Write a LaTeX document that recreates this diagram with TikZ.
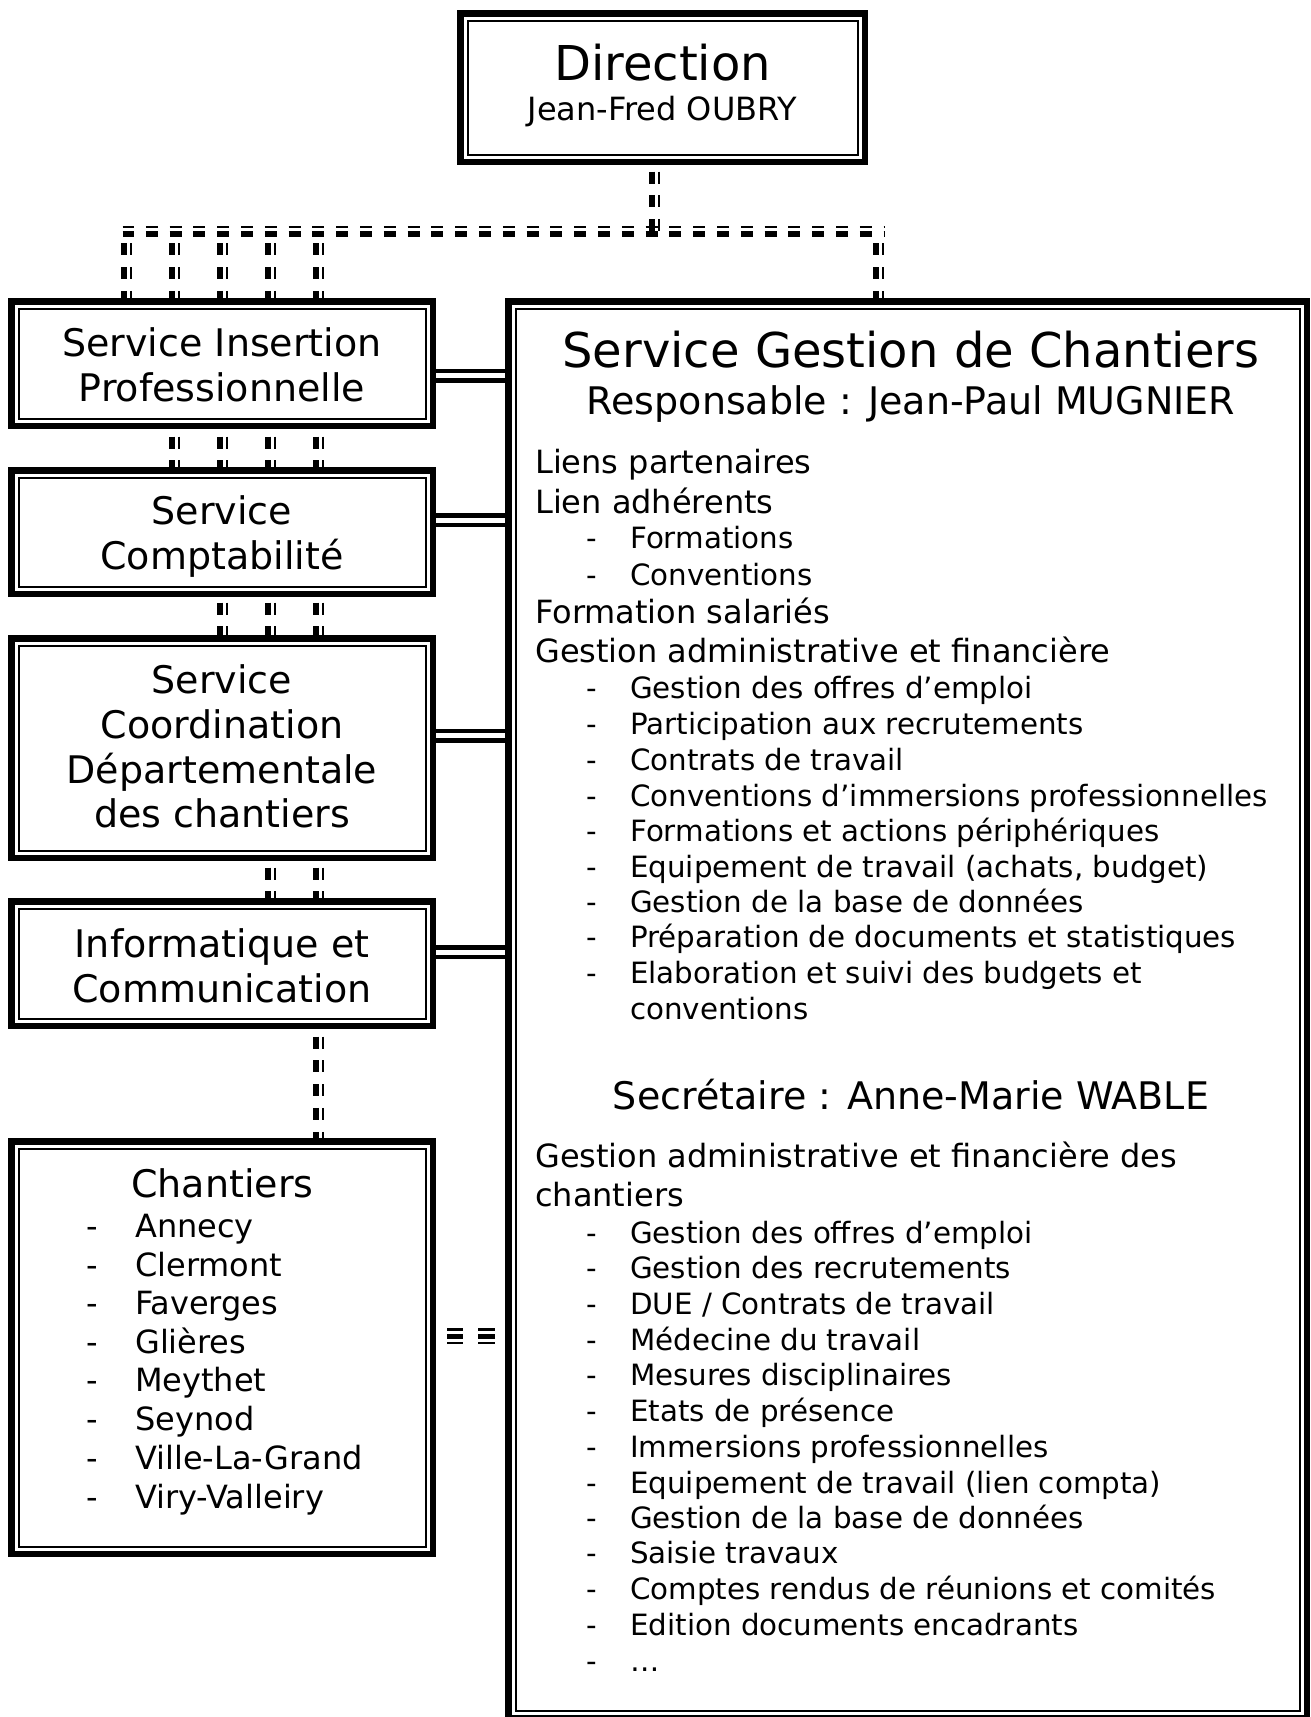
\documentclass[tikz,border=0pt]{standalone}
\usepackage{fontspec}
\setmainfont{DejaVu Sans}
\usetikzlibrary{calc}
\pgfdeclarelayer{bg}
\pgfsetlayers{bg,main}

\tikzset{
  orgbox/.style={draw, line width=6.5pt, inner sep=0pt, outer sep=0pt, rectangle},
  inframe/.style={draw, line width=2pt},
  ttl/.style={anchor=base, inner sep=0pt, font=\fontsize{48}{58}\selectfont},
  cxiv/.style={anchor=base, inner sep=0pt, font=\fontsize{38}{46}\selectfont},
  cxii/.style={anchor=base, inner sep=0pt, font=\fontsize{32}{40}\selectfont},
  lxii/.style={anchor=base west, inner sep=0pt, font=\fontsize{32}{40}\selectfont},
  lxi/.style={anchor=base west, inner sep=0pt, font=\fontsize{29.33}{36}\selectfont},
  thickdash/.style={line width=6pt, dash pattern=on 12pt off 11.8pt},
  thindash/.style={line width=2pt, dash pattern=on 12pt off 11.8pt},
  dbl/.style={draw, line width=4.5pt, double=white, double distance=5pt},
  tripdash/.style={dash pattern=on 0pt off 14.25pt on 16pt off 15pt on 17pt off 40pt},
}

\newcommand\orgframe[5]{%
  \pgfmathsetmacro\obw{#4-#2-6.5}\pgfmathsetmacro\obh{#5-#3-6.5}%
  \node[orgbox, minimum width=\obw pt, minimum height=\obh pt] (#1) at ({(#2+#4)/2},{(#3+#5)/2}) {};
  \draw[inframe] ([shift={(7.25,7.25)}]#1.north west) rectangle ([shift={(-7.25,-7.25)}]#1.south east);
}
\newcommand\vcon[3]{%
  \draw[thickdash, dash phase=#3] ($(#1)+(-2.5,0)$) -- ($(#2)+(-2.5,0)$);
  \draw[thindash, dash phase=#3] ($(#1)+(4.5,0)$) -- ($(#2)+(4.5,0)$);
}
\newcommand\hcon[3]{%
  \draw[thickdash, dash phase=#3] ($(#1)+(0,2.5)$) -- ($(#2)+(0,2.5)$);
  \draw[thindash, dash phase=#3] ($(#1)+(0,-4.5)$) -- ($(#2)+(0,-4.5)$);
}
\newcommand\gsub[3]{%
  \node[lxi] (#1d) at (586,#2) {-};
  \node[lxi] (#1) at (630,#2) {#3};
}
\newcommand\csub[3]{%
  \node[lxii] (#1d) at (86.5,#2) {-};
  \node[lxii] (#1) at (135,#2) {#3};
}

\begin{document}
\begin{tikzpicture}[x=1pt,y=-1pt]
\useasboundingbox (0,0) rectangle (1311,1717);
\begin{pgfonlayer}{bg}
  \fill[white] (0,0) rectangle (1311,1717);
\end{pgfonlayer}

% ---------- boxes ----------
\orgframe{dir}{457}{10}{868}{165}
\orgframe{ins}{8}{298}{436}{429}
\orgframe{compta}{8}{467}{436}{597}
\orgframe{coord}{8}{635}{436}{861}
\orgframe{info}{8}{898}{436}{1029}
\orgframe{chant}{8}{1138}{436}{1557}
\orgframe{gest}{505}{298}{1310}{1721}

% ---------- texts of left boxes ----------
\node[ttl]  (dirT) at (662.5,80) {Direction};
\node[cxii] (dirN) at (662.5,120) {Jean-Fred OUBRY};

\node[cxiv] (ins1) at (222,356) {Service Insertion};
\node[cxiv] (ins2) at (222,401) {Professionnelle};

\node[cxiv] (cpt1) at (222,524) {Service};
\node[cxiv] (cpt2) at (222,569) {Comptabilité};

\node[cxiv] (crd1) at (222,693) {Service};
\node[cxiv] (crd2) at (222,738) {Coordination};
\node[cxiv] (crd3) at (222,783) {Départementale};
\node[cxiv] (crd4) at (222,827) {des chantiers};

\node[cxiv] (inf1) at (222,957) {Informatique et};
\node[cxiv] (inf2) at (222,1002) {Communication};

\node[cxiv] (chT) at (222.5,1197) {Chantiers};
\csub{ch1}{1237}{Annecy}
\csub{ch2}{1276}{Clermont}
\csub{ch3}{1314}{Faverges}
\csub{ch4}{1353}{Glières}
\csub{ch5}{1391}{Meythet}
\csub{ch6}{1430}{Seynod}
\csub{ch7}{1469}{Ville-La-Grand}
\csub{ch8}{1508}{Viry-Valleiry}

% ---------- Service Gestion de Chantiers ----------
\node[ttl]  (gT) at (911,367) {Service Gestion de Chantiers};
\node[cxiv] (gR) at (911,414) {Responsable : Jean-Paul MUGNIER};
\node[lxii] (g1) at (535,473) {Liens partenaires};
\node[lxii] (g2) at (535,513) {Lien adhérents};
\gsub{g3}{548}{Formations}
\gsub{g4}{585}{Conventions}
\node[lxii] (g5) at (535,623) {Formation salariés};
\node[lxii] (g6) at (535,662) {Gestion administrative et financière};
\gsub{g7}{698}{Gestion des offres d’emploi}
\gsub{g8}{734}{Participation aux recrutements}
\gsub{g9}{770}{Contrats de travail}
\gsub{g10}{806}{Conventions d’immersions professionnelles}
\gsub{g11}{841}{Formations et actions périphériques}
\gsub{g12}{877}{Equipement de travail (achats, budget)}
\gsub{g13}{912}{Gestion de la base de données}
\gsub{g14}{947}{Préparation de documents et statistiques}
\gsub{g15}{983}{Elaboration et suivi des budgets et}
\node[lxi] (g16) at (630,1019) {conventions};

\node[cxiv] (gS) at (911,1109) {Secrétaire : Anne-Marie WABLE};
\node[lxii] (h1) at (535,1167) {Gestion administrative et financière des};
\node[lxii] (h2) at (535,1206) {chantiers};
\gsub{h3}{1243}{Gestion des offres d’emploi}
\gsub{h4}{1278}{Gestion des recrutements}
\gsub{h5}{1314}{DUE / Contrats de travail}
\gsub{h6}{1350}{Médecine du travail}
\gsub{h7}{1385}{Mesures disciplinaires}
\gsub{h8}{1421}{Etats de présence}
\gsub{h9}{1457}{Immersions professionnelles}
\gsub{h10}{1493}{Equipement de travail (lien compta)}
\gsub{h11}{1528}{Gestion de la base de données}
\gsub{h12}{1563}{Saisie travaux}
\gsub{h13}{1599}{Comptes rendus de réunions et comités}
\gsub{h14}{1635}{Edition documents encadrants}
\gsub{h15}{1671}{…}

% ---------- connectors ----------
\coordinate (busL) at (122.5,231.5);
\coordinate (busR) at (884,231.5);
\coordinate (kd) at (654,231.5);
\coordinate (k0) at (126,231.5);
\coordinate (k1) at (174,231.5);
\coordinate (k2) at (222,231.5);
\coordinate (k3) at (270,231.5);
\coordinate (k4) at (318,231.5);
\coordinate (kr) at (878.5,231.5);
\coordinate (yIns) at (0,375.5);
\coordinate (yCpt) at (0,520);
\coordinate (yCrd) at (0,735.5);
\coordinate (yInf) at (0,952);
\coordinate (yCh) at (0,1336.5);

\begin{pgfonlayer}{bg}
  \vcon{kd |- dir.south}{kd}{14pt}
  \hcon{busL}{busR}{0.5pt}
  \vcon{k0}{k0 |- ins.north}{12pt}
  \vcon{k1}{k1 |- ins.north}{12pt}
  \vcon{k2}{k2 |- ins.north}{12pt}
  \vcon{k3}{k3 |- ins.north}{12pt}
  \vcon{k4}{k4 |- ins.north}{12pt}
  \vcon{kr}{kr |- gest.north}{12pt}
  \vcon{k1 |- ins.south}{k1 |- compta.north}{13pt}
  \vcon{k2 |- ins.south}{k2 |- compta.north}{13pt}
  \vcon{k3 |- ins.south}{k3 |- compta.north}{13pt}
  \vcon{k4 |- ins.south}{k4 |- compta.north}{13pt}
  \vcon{k2 |- compta.south}{k2 |- coord.north}{15pt}
  \vcon{k3 |- compta.south}{k3 |- coord.north}{15pt}
  \vcon{k4 |- compta.south}{k4 |- coord.north}{15pt}
  \vcon{k3 |- coord.south}{k3 |- info.north}{14pt}
  \vcon{k4 |- coord.south}{k4 |- info.north}{14pt}
  \vcon{k4 |- info.south}{k4 |- chant.north}{13pt}

  \draw[dbl] (ins.east |- yIns) -- (gest.west |- yIns);
  \draw[dbl] (compta.east |- yCpt) -- (gest.west |- yCpt);
  \draw[dbl] (coord.east |- yCrd) -- (gest.west |- yCrd);
  \draw[dbl] (info.east |- yInf) -- (gest.west |- yInf);

  \draw[tripdash, line width=2.3pt] ($(chant.east |- yCh)+(0,-7)$) -- ($(gest.west |- yCh)+(0,-7)$);
  \draw[tripdash, line width=5pt] (chant.east |- yCh) -- (gest.west |- yCh);
  \draw[tripdash, line width=2.5pt] ($(chant.east |- yCh)+(0,6.5)$) -- ($(gest.west |- yCh)+(0,6.5)$);
\end{pgfonlayer}
\end{tikzpicture}
\end{document}
